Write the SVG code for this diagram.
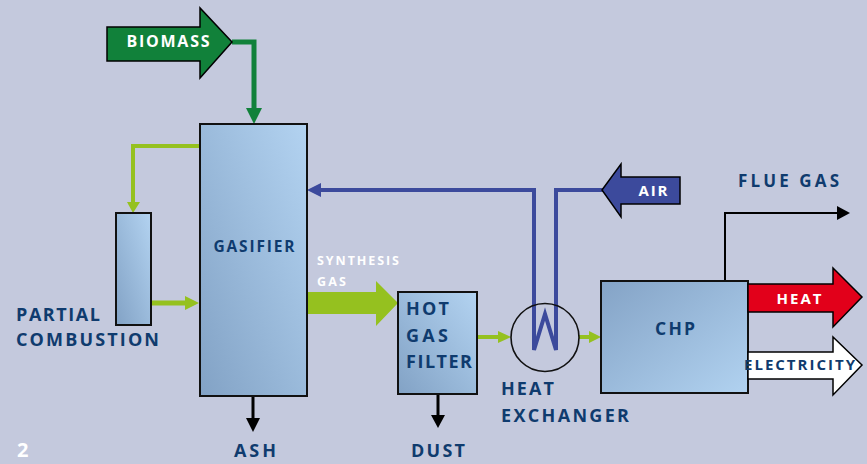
<svg xmlns="http://www.w3.org/2000/svg" width="867" height="464" viewBox="0 0 867 464">
<defs>
<linearGradient id="gBL" x1="0" y1="1" x2="1" y2="0">
<stop offset="0" stop-color="#82a2c5"/>
<stop offset="1" stop-color="#b3d3f1"/>
</linearGradient>
<linearGradient id="gTL" x1="0" y1="0" x2="1" y2="1">
<stop offset="0" stop-color="#84a3c6"/>
<stop offset="1" stop-color="#b1d2f0"/>
</linearGradient>
</defs>
<style>
.box{stroke:#111;stroke-width:2}
.lbl{font-family:"Open Sans","DejaVu Sans",sans-serif;font-weight:bold;fill:#0f3b6e}
.wht{font-family:"Open Sans","DejaVu Sans",sans-serif;font-weight:bold;fill:#ffffff}
.lg{stroke:#95c11f;fill:none}
.lgh{fill:#95c11f}
.blk{stroke:#000;fill:none}
.bh{fill:#000}
.big{stroke:#000;stroke-width:1.5}
</style>
<rect width="867" height="464" fill="#c4c9dd"/>

<g id="connectors">
<path d="M232,42 H254 V110" stroke="#11813a" stroke-width="5" fill="none"/>
<polygon points="246,108 262,108 254,124" fill="#11813a"/>
<path class="lg" d="M200,146 H133 V203" stroke-width="4"/>
<polygon class="lgh" points="127,202 140,202 133,213"/>
<path class="lg" d="M151,303 H186" stroke-width="5"/>
<polygon class="lgh" points="185,296 199,303 185,310"/>
<path d="M320,190 H534 V350 L545,314 L556,350 V190 H603" stroke="#3c4a9c" stroke-width="4" fill="none"/>
<polygon points="321,183 307,190 321,197" fill="#3c4a9c"/>
<polygon id="syngas" points="307,292 376,292 376,281 398,303 376,326 376,314 307,314" fill="#95c11f"/>
<path class="lg" d="M477,337 H499" stroke-width="4"/>
<polygon class="lgh" points="498,331 511,337 498,343"/>
<path class="lg" d="M579,337 H590" stroke-width="4"/>
<polygon class="lgh" points="589,331 601,337 589,343"/>
<path class="blk" d="M438,394 V416" stroke-width="3"/>
<polygon class="bh" points="431,415 445,415 438,428"/>
<path class="blk" d="M253,396 V419" stroke-width="3"/>
<polygon class="bh" points="246,418 260,418 253,432"/>
<path class="blk" d="M725,281 V213 H838" stroke-width="2"/>
<polygon class="bh" points="837,206 850,213 837,220"/>
</g>

<g id="biomass">
<polygon class="big" points="107,27 200,27 200,8 232,42 200,78 200,61 107,61" fill="#11813a"/>
<text class="wht" x="168" y="47" font-size="16" text-anchor="middle" textLength="83" lengthAdjust="spacing">BIOMASS</text>
</g>

<g id="gasifier">
<rect class="box" x="200" y="124" width="107" height="272" fill="url(#gBL)"/>
<text class="lbl" x="254" y="252" font-size="15.5" text-anchor="middle" textLength="81" lengthAdjust="spacing">GASIFIER</text>
</g>

<g id="partial-combustion">
<rect class="box" x="116" y="213" width="35" height="112" fill="url(#gBL)"/>
<text class="lbl" x="16" y="321" font-size="18" textLength="84" lengthAdjust="spacing">PARTIAL</text>
<text class="lbl" x="16" y="346" font-size="18" textLength="143" lengthAdjust="spacing">COMBUSTION</text>
</g>

<g id="synthesis-gas-label">
<text class="wht" x="317" y="265" font-size="12.5" textLength="82" lengthAdjust="spacing">SYNTHESIS</text>
<text class="wht" x="317" y="286" font-size="12.5" textLength="29" lengthAdjust="spacing">GAS</text>
</g>

<g id="hot-gas-filter">
<rect class="box" x="398" y="292" width="79" height="102" fill="url(#gBL)"/>
<text class="lbl" x="406" y="315" font-size="18" textLength="43" lengthAdjust="spacing">HOT</text>
<text class="lbl" x="406" y="342" font-size="18" textLength="42" lengthAdjust="spacing">GAS</text>
<text class="lbl" x="406" y="368" font-size="18" textLength="66" lengthAdjust="spacing">FILTER</text>
</g>

<g id="heat-exchanger">
<circle cx="545" cy="337.5" r="34" fill="none" stroke="#111" stroke-width="1.6"/>
<text class="lbl" x="501" y="395" font-size="18" textLength="53" lengthAdjust="spacing">HEAT</text>
<text class="lbl" x="501" y="422" font-size="18" textLength="128" lengthAdjust="spacing">EXCHANGER</text>
</g>

<g id="air">
<polygon class="big" points="602,190 621,164 621,177 680,177 680,204 621,204 621,217" fill="#3c4a9c"/>
<text class="wht" x="653" y="196" font-size="15" text-anchor="middle" textLength="29" lengthAdjust="spacing">AIR</text>
</g>

<g id="chp">
<rect class="box" x="601" y="281" width="147" height="112" fill="url(#gTL)"/>
<text class="lbl" x="675" y="335" font-size="17.5" text-anchor="middle" textLength="40" lengthAdjust="spacing">CHP</text>
</g>

<g id="flue-gas">
<text class="lbl" x="738" y="187" font-size="17" textLength="101" lengthAdjust="spacing">FLUE GAS</text>
</g>

<g id="heat">
<polygon class="big" points="748,284 833,284 833,268 862,297 833,327 833,312 748,312" fill="#e2001a"/>
<text class="wht" x="799" y="304" font-size="15" text-anchor="middle" textLength="45" lengthAdjust="spacing">HEAT</text>
</g>

<g id="electricity">
<polygon class="big" points="748,352 833,352 833,337 862,365 833,395 833,379 748,379" fill="#ffffff"/>
<text class="lbl" x="744" y="370" font-size="15" textLength="111" lengthAdjust="spacing">ELECTRICITY</text>
</g>

<g id="ash">
<text class="lbl" x="234" y="457" font-size="18" textLength="42" lengthAdjust="spacing">ASH</text>
</g>

<g id="dust">
<text class="lbl" x="411" y="457" font-size="18" textLength="54" lengthAdjust="spacing">DUST</text>
</g>

<text class="wht" x="17" y="457" font-size="20">2</text>
</svg>
